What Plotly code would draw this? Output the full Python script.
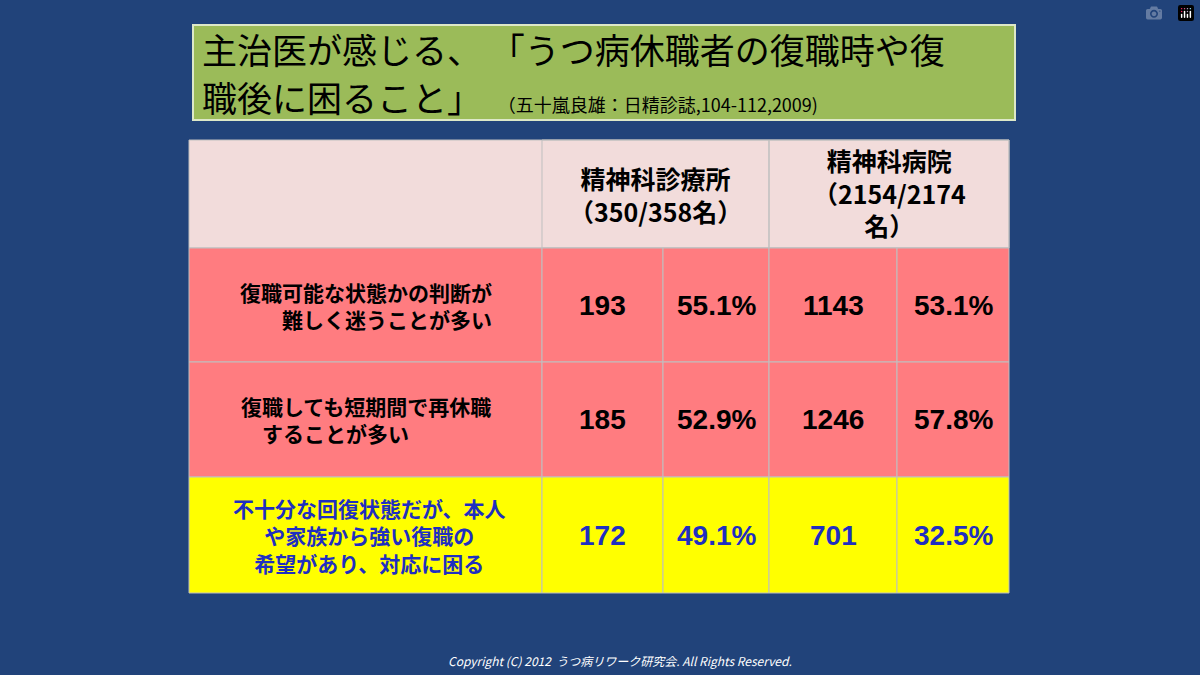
import plotly.graph_objects as go

title_line1 = "主治医が感じる、「うつ病休職者の復職時や復"
title_line2 = "職後に困ること」"
citation = "（五十嵐良雄：日精診誌,104-112,2009)"
headers = ["精神科診療所<br>（350/358名）", "精神科病院<br>（2154/2174<br>名）"]
row_labels = [
    "復職可能な状態かの判断が<br>　　難しく迷うことが多い",
    "復職しても短期間で再休職<br>　することが多い",
    "不十分な回復状態だが、本人<br>や家族から強い復職の<br>希望があり、対応に困る",
]
clinic_n = [193, 185, 172]
clinic_pct = ["55.1%", "52.9%", "49.1%"]
hospital_n = [1143, 1246, 701]
hospital_pct = ["53.1%", "57.8%", "32.5%"]
row_fill = ["#FF7C80", "#FF7C80", "#FFFF00"]
row_font = ["black", "black", "#1F2FC0"]
footer = "Copyright (C) 2012  うつ病リワーク研究会. All Rights Reserved."

col_x = [189, 542, 663, 769, 897, 1009]
row_y = [140, 248, 362, 477, 593]
grid = "#BFBFBF"
font = "Noto Sans CJK JP"

fig = go.Figure()
shapes = []
ann = []

# title box
shapes.append(dict(type="rect", x0=193, x1=1015, y0=25, y1=120, fillcolor="#9BBB59",
                   line=dict(color="#DDE8C8", width=2)))
ann.append(dict(x=200, y=48, text=title_line1.replace("、", "、 "), xanchor="left", showarrow=False,
                font=dict(size=35, color="black", family=font)))
ann.append(dict(x=200, y=96, text=title_line2 + "  <span style='font-size:18px'>" + citation + "</span>",
                xanchor="left", showarrow=False, font=dict(size=35, color="black", family=font)))

# header
shapes.append(dict(type="rect", x0=col_x[0], x1=col_x[-1], y0=row_y[0], y1=row_y[1],
                   fillcolor="#F2DCDB", line=dict(color=grid, width=1)))
for i, h in enumerate(headers):
    x0, x1 = col_x[1 + 2 * i], col_x[3 + 2 * i]
    shapes.append(dict(type="rect", x0=x0, x1=x1, y0=row_y[0], y1=row_y[1],
                       line=dict(color=grid, width=1)))
    ann.append(dict(x=(x0 + x1) / 2, y=(row_y[0] + row_y[1]) / 2 - (2 if i else 0), text="<b>" + h + "</b>",
                    showarrow=False, font=dict(size=25, color="black", family=font)))

for r in range(3):
    y0, y1 = row_y[r + 1], row_y[r + 2]
    ym = (y0 + y1) / 2
    for c in range(5):
        shapes.append(dict(type="rect", x0=col_x[c], x1=col_x[c + 1], y0=y0, y1=y1,
                           fillcolor=row_fill[r], line=dict(color=grid, width=1)))
    ann.append(dict(x=(col_x[0] + col_x[1]) / 2 + (4 if r == 2 else 0), y=ym,
                    text="<b>" + row_labels[r] + "</b>", showarrow=False,
                    align="center" if r == 2 else "left",
                    font=dict(size=21, color=row_font[r], family=font)))
    vals = [clinic_n[r], clinic_pct[r], hospital_n[r], hospital_pct[r]]
    for c, v in enumerate(vals):
        ann.append(dict(x=(col_x[c + 1] + col_x[c + 2]) / 2, y=ym, text="<b>%s</b>" % v,
                        showarrow=False, font=dict(size=28, color=row_font[r], family="Liberation Sans")))

ann.append(dict(x=620, y=660, text="<i>" + footer + "</i>", showarrow=False,
                font=dict(size=12, color="white", family=font)))

fig.update_layout(
    width=1200, height=675, margin=dict(l=0, r=0, t=0, b=0),
    paper_bgcolor="#21437A", plot_bgcolor="#21437A",
    xaxis=dict(range=[0, 1200], visible=False, fixedrange=True),
    yaxis=dict(range=[675, 0], visible=False, fixedrange=True),
    shapes=shapes, annotations=ann, showlegend=False,
)
fig.write_html("out.html", post_script="document.body.style.margin='0';")
